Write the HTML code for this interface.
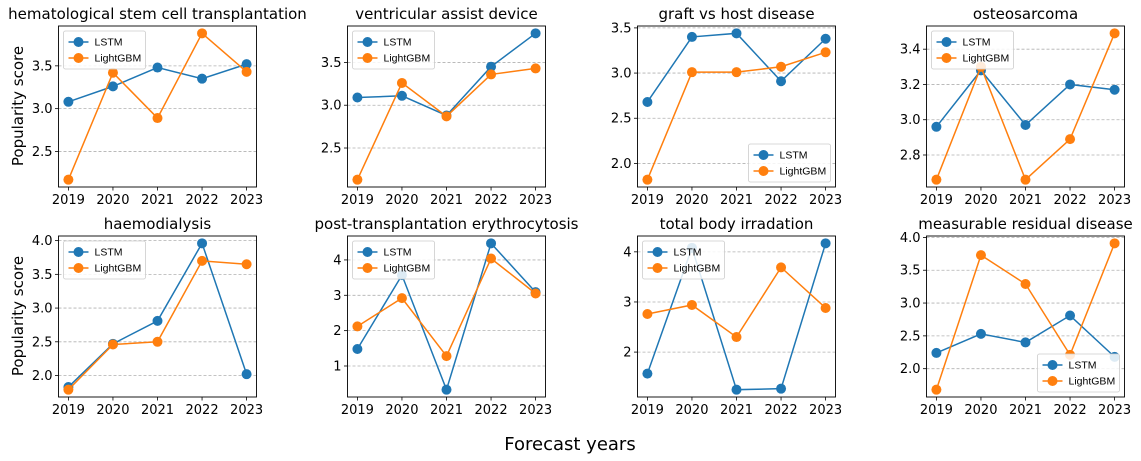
<!DOCTYPE html>
<html><head><meta charset="utf-8"><style>
body{margin:0;background:#fff;}
svg{display:block;font-family:"DejaVu Sans","Liberation Sans",sans-serif;}
</style></head><body>
<svg id="chart" width="1141" height="461" viewBox="0 0 1141 461"></svg>
<script>
const years = [2019, 2020, 2021, 2022, 2023];
const titles = ["hematological stem cell transplantation","ventricular assist device","graft vs host disease","osteosarcoma","haemodialysis","post-transplantation erythrocytosis","total body irradation","measurable residual disease"];
const lstmValues = [
  [3.08,3.26,3.48,3.35,3.52],
  [3.09,3.11,2.88,3.45,3.84],
  [2.68,3.40,3.44,2.91,3.38],
  [2.96,3.28,2.97,3.20,3.17],
  [1.83,2.47,2.81,3.96,2.02],
  [1.48,3.57,0.33,4.47,3.09],
  [1.57,4.08,1.25,1.27,4.17],
  [2.24,2.53,2.40,2.81,2.18]
];
const lgbmValues = [
  [2.17,3.42,2.89,3.88,3.43],
  [2.13,3.26,2.87,3.36,3.43],
  [1.82,3.01,3.01,3.07,3.23],
  [2.66,3.30,2.66,2.89,3.49],
  [1.79,2.46,2.50,3.70,3.65],
  [2.12,2.92,1.28,4.04,3.05],
  [2.76,2.94,2.30,3.69,2.88],
  [1.68,3.73,3.29,2.21,3.91]
];
const tickLabels = [
  ["2.5","3.0","3.5"],["2.5","3.0","3.5"],["2.0","2.5","3.0","3.5"],["2.8","3.0","3.2","3.4"],
  ["2.0","2.5","3.0","3.5","4.0"],["1","2","3","4"],["2","3","4"],["2.0","2.5","3.0","3.5","4.0"]
];
const legendLoc = ["ul","ul","lr","ul","ul","ul","ul","lr"];

const NS="http://www.w3.org/2000/svg";
const svg=document.getElementById('chart');
function mk(tag,attrs,parent){const e=document.createElementNS(NS,tag);for(const k in attrs)e.setAttribute(k,attrs[k]);(parent||svg).appendChild(e);return e;}
const colL="#1f77b4", colG="#ff7f0e";
const colX=[58.5,347.5,637.5,926.5], W=198;
const rowY=[[26,187],[236,397]];

for(let p=0;p<8;p++){
  const c=p%4, r=Math.floor(p/4);
  const x0=colX[c], x1=x0+W, y0=rowY[r][0], y1=rowY[r][1];
  const g=mk('g',{});
  
  
  const all=lstmValues[p].concat(lgbmValues[p]);
  let mn=Math.min(...all), mx=Math.max(...all), m=(mx-mn)*0.05;
  mn-=m; mx+=m;
  const ys=v=>y1-(v-mn)/(mx-mn)*(y1-y0);
  const xs=i=>x0+9.9+i*(W-19.8)/(years.length-1);
  tickLabels[p].forEach(t=>{
    const v=parseFloat(t), y=ys(v);
    if(y<y0-0.5||y>y1+0.5) return;
    const gl=mk('line',{x1:x0,x2:x1,y1:y,y2:y,stroke:"#b0b0b0","stroke-width":0.8,"stroke-dasharray":"3,2"},g);
    
    
    mk('line',{x1:x0-3.5,x2:x0,y1:y,y2:y,stroke:"#000","stroke-width":0.8},g);
    const tl=mk('text',{x:x0-6,y:y+4.5,"text-anchor":"end","font-size":13,fill:"#000"},g);
    tl.textContent=t;
    
    
  });
  years.forEach((yr,i)=>{
    const x=xs(i);
    mk('line',{x1:x,x2:x,y1:y1,y2:y1+3.5,stroke:"#000","stroke-width":0.8},g);
    const tl=mk('text',{x:x,y:y1+17,"text-anchor":"middle","font-size":13,fill:"#000"},g);
    tl.textContent=yr;
    
    
  });
  [[lstmValues[p],colL,'lstm'],[lgbmValues[p],colG,'lightgbm']].forEach(([vals,col,nm])=>{
    const pts=vals.map((v,i)=>xs(i)+","+ys(v)).join(" ");
    const pl=mk('polyline',{points:pts,fill:"none",stroke:col,"stroke-width":1.5},g);
    
    
    vals.forEach((v,i)=>{
      const ci=mk('circle',{cx:xs(i),cy:ys(v),r:5,fill:col},g);
      
      
    });
  });
  const fr=mk('rect',{x:x0,y:y0,width:W,height:y1-y0,fill:"none",stroke:"#000","stroke-width":0.9},g);
  
  
  const tt=mk('text',{x:(x0+x1)/2,y:y0-7,"text-anchor":"middle","font-size":15,fill:"#000"},g);
  tt.textContent=titles[p];
  
  
  const lw=82, lh=38;
  const lx=legendLoc[p]==="ul"?x0+5:x1-lw-5;
  const ly=legendLoc[p]==="ul"?y0+5:y1-lh-5;
  const lg=mk('g',{},g);
  
  
  mk('rect',{x:lx,y:ly,width:lw,height:lh,rx:2,fill:"#fff","fill-opacity":0.85,stroke:"#ccc","stroke-width":0.8},lg);
  [["LSTM",colL],["LightGBM",colG]].forEach(([lab,col],k)=>{
    const yy=ly+11+k*16;
    mk('line',{x1:lx+5,x2:lx+25,y1:yy,y2:yy,stroke:col,"stroke-width":1.5},lg);
    mk('circle',{cx:lx+15,cy:yy,r:5,fill:col},lg);
    const lt=mk('text',{x:lx+31,y:yy+3.5,"font-size":10.5,"font-family":"Liberation Sans, sans-serif",fill:"#000"},lg);
    lt.textContent=lab;
    
    
  });
}
[[106,'y-axis-title-top'],[316,'y-axis-title-bottom']].forEach(([cy,nm])=>{
  const t=mk('text',{x:0,y:0,transform:`translate(23,${cy}) rotate(-90)`,"text-anchor":"middle","font-size":15,fill:"#000"});
  t.textContent="Popularity score";
  
  
});
const xt=mk('text',{x:570,y:450,"text-anchor":"middle","font-size":18,fill:"#000"});
xt.textContent="Forecast years";


</script>
</body></html>
